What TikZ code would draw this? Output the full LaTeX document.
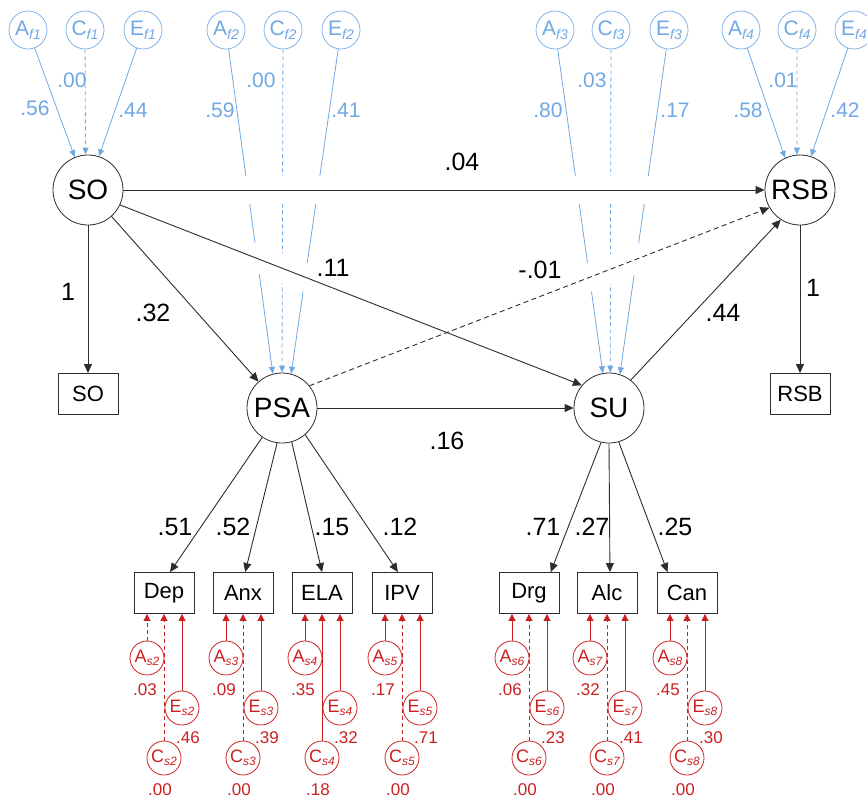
\documentclass[tikz,border=0pt]{standalone}
\usepackage{fontspec}
\setmainfont{Liberation Sans}
\usetikzlibrary{arrows.meta,calc}
\definecolor{bl}{RGB}{112,168,228}
\definecolor{rd}{RGB}{204,32,32}
\definecolor{ln}{RGB}{45,45,45}
\newcommand{\fsz}[1]{\fontsize{#1}{#1}\selectfont}
\newcommand{\bsub}[1]{\raisebox{-0.35ex}{\fontsize{14}{14}\selectfont\itshape #1}}
\newcommand{\rsub}[1]{\raisebox{-0.35ex}{\fontsize{12}{12}\selectfont\itshape #1}}
\newcommand{\indic}[8]{%
  \node[rc] (As#3) at ({#2-17},658) {A\rsub{s#3}};
  \node[rc] (Es#3) at ({#2+18},708) {E\rsub{s#3}};
  \node[rc] (Cs#3) at ({#2},758) {C\rsub{s#3}};
  \draw[rarr,#7] (As#3) -- (As#3 |- #1.south);
  \draw[rarr] (Es#3) -- (Es#3 |- #1.south);
  \draw[rarr,#8] (Cs#3) -- (Cs#3 |- #1.south);
  \node[rlab] at ({#2-19},690) {#4};
  \node[rlab] at ({#2+24},738) {#5};
  \node[rlab] at ({#2-4},790) {#6};
}
\begin{document}
\begin{tikzpicture}[x=1pt,y=-1pt,
  lat/.style={circle,draw=ln,line width=0.8pt,minimum size=70pt,inner sep=0pt,font=\fsz{28}},
  obs/.style={rectangle,draw=ln,line width=0.9pt,minimum width=60pt,minimum height=41pt,inner sep=0pt,font=\fsz{22}},
  bc/.style={circle,draw=bl,line width=0.7pt,minimum size=38pt,inner sep=0pt,text=bl,font=\fsz{21}},
  rc/.style={circle,draw=rd,line width=0.8pt,minimum size=34pt,inner sep=0pt,text=rd,font=\fsz{18}},
  barr/.style={draw=bl,line width=0.8pt,-{Triangle[length=7pt,width=6pt]}},
  rarr/.style={draw=rd,line width=0.9pt,-{Triangle[length=7pt,width=7pt]}},
  karr/.style={draw=ln,line width=0.9pt,-{Triangle[length=9pt,width=8pt]}},
  blab/.style={text=bl,font=\fsz{21},inner sep=0pt},
  rlab/.style={text=rd,font=\fsz{17},inner sep=0pt},
  klab/.style={text=black,font=\fsz{25},inner sep=0pt},
  bridge/.style={draw=white,line width=28pt},
  dsh/.style={dash pattern=on 4pt off 3pt},
  kdsh/.style={dash pattern=on 5pt off 3.5pt}]
\useasboundingbox (0,0) rectangle (867,801);
\clip (0,0) rectangle (867,801);

% latent factors
\node[lat] (SO) at (88,190) {SO};
\node[lat] (PSA) at (282,408) {PSA};
\node[lat] (SU) at (609,408) {SU};
\node[lat] (RSB) at (800,190) {RSB};

% observed
\node[obs] (SOb) at (88,394) {SO};
\node[obs] (RSBb) at (800,394) {RSB};
\node[obs] (Dep) at (164,593) {Dep};
\node[obs] (Anx) at (243,593) {Anx};
\node[obs] (ELA) at (322,593) {ELA};
\node[obs] (IPV) at (402,593) {IPV};
\node[obs] (Drg) at (529,593) {Drg};
\node[obs] (Alc) at (607,593) {Alc};
\node[obs] (Can) at (687,593) {Can};

% ACE factor circles (blue)
\node[bc] (Af1) at (28,30) {A\bsub{f1}};
\node[bc] (Cf1) at (85,30) {C\bsub{f1}};
\node[bc] (Ef1) at (143,30) {E\bsub{f1}};
\node[bc] (Af2) at (226,30) {A\bsub{f2}};
\node[bc] (Cf2) at (283,30) {C\bsub{f2}};
\node[bc] (Ef2) at (341,30) {E\bsub{f2}};
\node[bc] (Af3) at (555,30) {A\bsub{f3}};
\node[bc] (Cf3) at (611,30) {C\bsub{f3}};
\node[bc] (Ef3) at (669,30) {E\bsub{f3}};
\node[bc] (Af4) at (741,30) {A\bsub{f4}};
\node[bc] (Cf4) at (797,30) {C\bsub{f4}};
\node[bc] (Ef4) at (854,30) {E\bsub{f4}};

\draw[barr] (Af1) -- (SO.112);
\draw[barr,dsh] (Cf1) -- (SO.94);
\draw[barr] (Ef1) -- (SO.72);
\draw[barr] (Af2) -- (PSA.105);
\draw[barr,dsh] (Cf2) -- (PSA.90);
\draw[barr] (Ef2) -- (PSA.75);
\draw[barr] (Af3) -- (SU.100);
\draw[barr,dsh] (Cf3) -- (SU.88);
\draw[barr] (Ef3) -- (SU.72);
\draw[barr] (Af4) -- (RSB.115);
\draw[barr,dsh] (Cf4) -- (RSB.95);
\draw[barr] (Ef4) -- (RSB.72);

\node[blab] at (35,108) {.56};
\node[blab] at (72,80) {.00};
\node[blab] at (133,110) {.44};
\node[blab] at (220,110) {.59};
\node[blab] at (261,80) {.00};
\node[blab] at (346,110) {.41};
\node[blab] at (548,110) {.80};
\node[blab] at (592,80) {.03};
\node[blab] at (675,110) {.17};
\node[blab] at (748,110) {.58};
\node[blab] at (783,80) {.01};
\node[blab] at (845,110) {.42};

% white bridges where black paths cross the blue paths
\path[bridge] ($(SO)!0.211!(RSB)$) -- ($(SO)!0.337!(RSB)$);
\path[bridge] ($(SO)!0.67!(RSB)$) -- ($(SO)!0.803!(RSB)$);
\path[bridge] ($(SO.-25)!0.27!(SU.140)$) -- ($(SO.-25)!0.433!(SU.140)$);
\path[bridge] ($(PSA.39)!0.583!(RSB.210)$) -- ($(PSA.39)!0.735!(RSB.210)$);

% structural paths
\draw[karr] (SO) -- (RSB);
\draw[karr] (SO) -- (SOb);
\draw[karr] (SO) -- (PSA);
\draw[karr] (SO.-25) -- (SU.140);
\draw[karr,kdsh] (PSA.39) -- (RSB.210);
\draw[karr] (PSA) -- (SU);
\draw[karr] (SU.52) -- (RSB.237);
\draw[karr] (RSB) -- (RSBb);

% loadings
\draw[karr] (PSA.236) -- (Dep.74);
\draw[karr] (PSA.-98) -- (Anx.84);
\draw[karr] (PSA.-74) -- (ELA.90);
\draw[karr] (PSA.-49) -- (IPV.101);
\draw[karr] (SU.-103) -- (Drg.44);
\draw[karr] (SU.-90) -- (Alc.82);
\draw[karr] (SU.-74) -- (Can.133);

% black labels
\node[klab] at (462,162) {.04};
\node[klab] at (68,292) {1};
\node[klab] at (153,313) {.32};
\node[klab] at (333,268) {.11};
\node[klab] at (540,270) {-.01};
\node[klab] at (447,441) {.16};
\node[klab] at (723,313) {.44};
\node[klab] at (813,288) {1};
\node[klab] at (175,527) {.51};
\node[klab] at (233,527) {.52};
\node[klab] at (332,527) {.15};
\node[klab] at (400,527) {.12};
\node[klab] at (543,527) {.71};
\node[klab] at (592,527) {.27};
\node[klab] at (675,527) {.25};

% indicator-specific ACE (red)
\indic{Dep}{164}{2}{.03}{.46}{.00}{dsh}{dsh}
\indic{Anx}{243}{3}{.09}{.39}{.00}{solid}{dsh}
\indic{ELA}{322}{4}{.35}{.32}{.18}{solid}{solid}
\indic{IPV}{402}{5}{.17}{.71}{.00}{solid}{dsh}
\indic{Drg}{529}{6}{.06}{.23}{.00}{solid}{dsh}
\indic{Alc}{607}{7}{.32}{.41}{.00}{solid}{dsh}
\indic{Can}{687}{8}{.45}{.30}{.00}{solid}{dsh}
\end{tikzpicture}
\end{document}
